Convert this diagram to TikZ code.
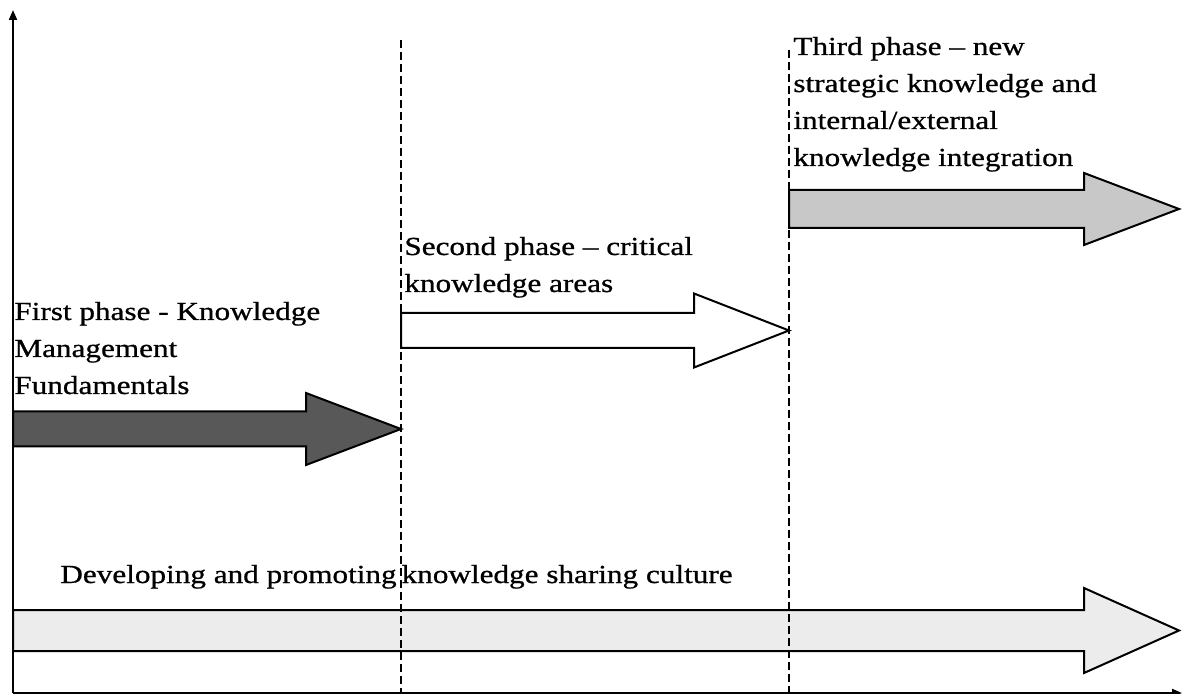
\documentclass[tikz,border=0pt]{standalone}
\usepackage{fontspec}
\setmainfont{Liberation Serif}[FakeStretch=1.2,FakeBold=0.8]
\usetikzlibrary{arrows.meta}
\definecolor{phasedark}{RGB}{88,88,88}
\definecolor{phaselight}{RGB}{200,200,200}
\definecolor{culturefill}{RGB}{236,236,236}
\tikzset{
  phasearrow/.style={draw=black,line width=1pt,line join=miter},
  phasetext/.style={anchor=base west,align=left,inner sep=0pt,
    font=\fontsize{13}{18.5}\selectfont},
  divider/.style={line width=0.75pt,dash pattern=on 4pt off 2pt},
  axisline/.style={line width=1pt,-{Triangle[length=5pt,width=4pt]}}
}
\begin{document}
\begin{tikzpicture}[x=0.5pt,y=-0.5pt]
  \useasboundingbox (0,0) rectangle (1182,694);
  \foreach \xa/\xb/\yc/\bh/\hh/\col in {13/401/429/17.5/36/phasedark,
      401/789/330.5/17.5/37/white, 789/1179/209/19/36/phaselight,
      13/1179/630.5/20.5/42.5/culturefill} {
    \draw[phasearrow,fill=\col] (\xa,\yc-\bh) -- (\xb-95,\yc-\bh)
      -- (\xb-95,\yc-\hh) -- (\xb,\yc) -- (\xb-95,\yc+\hh)
      -- (\xb-95,\yc+\bh) -- (\xa,\yc+\bh) -- cycle;
  }
  \foreach \x/\ytop in {401/40, 789/50} {
    \draw[divider] (\x,\ytop) -- (\x,693);
  }
  \coordinate (origin) at (13,693);
  \coordinate (ytop) at (13,10);
  \coordinate (xend) at (1182,693);
  \draw[axisline] (origin) -- (ytop);
  \draw[axisline] (origin) -- (xend);
  % base anchor sits on the last line
  \node[phasetext] (first) at (14,394)
    {First phase - Knowledge\\Management\\Fundamentals};
  \node[phasetext] (second) at (404,292)
    {Second phase -- critical\\knowledge areas};
  \node[phasetext] (third) at (793,166)
    {Third phase -- new\\strategic knowledge and\\internal/external\\knowledge integration};
  \node[phasetext] (culture) at (60,583)
    {Developing and promoting\hspace{2.5pt}knowledge sharing culture};
\end{tikzpicture}
\end{document}
